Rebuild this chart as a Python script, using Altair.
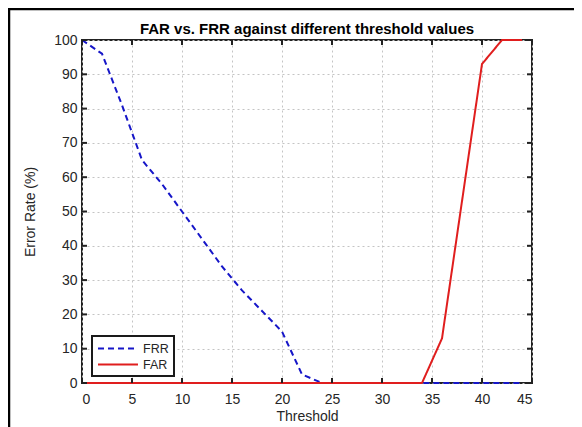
import altair as alt
import pandas as pd

thresholds = [0, 2, 4, 6, 8, 10, 12, 14, 16, 18, 20, 22, 24, 26, 28, 30, 32, 34, 36, 38, 40, 42, 44]
frr = [100, 96, 81, 65, 58, 50, 42, 34, 27, 21, 15, 2.5, 0, 0, 0, 0, 0, 0, 0, 0, 0, 0, 0]
far = [0, 0, 0, 0, 0, 0, 0, 0, 0, 0, 0, 0, 0, 0, 0, 0, 0, 0, 13, 53, 93, 100, 100]
series = ["FRR", "FAR"]
x_ticks = [0, 5, 10, 15, 20, 25, 30, 35, 40, 45]
y_ticks = [0, 10, 20, 30, 40, 50, 60, 70, 80, 90, 100]
chart_title = "FAR vs. FRR against different threshold values"

W, H = 450, 343
FONT = "Liberation Sans"
TXT = "#262626"

frr_df = pd.DataFrame({"Threshold": thresholds, "Rate": frr, "Series": "FRR"})
far_df = pd.DataFrame({"Threshold": thresholds, "Rate": far, "Series": "FAR"})
xt_df = pd.DataFrame({"Threshold": x_ticks})
yt_df = pd.DataFrame({"Rate": y_ticks})
one = pd.DataFrame({"a": [0]})

xscale = alt.Scale(domain=[0, 45], nice=False, zero=False)
yscale = alt.Scale(domain=[0, 100], nice=False)

color = alt.Color("Series:N", scale=alt.Scale(domain=series, range=["#1616c8", "#e01e1e"]),
                  legend=alt.Legend(title=None, orient="none", legendX=10, legendY=296,
                                    strokeColor="#1a1a1a", fillColor="white", padding=5,
                                    symbolType="M-1,0H5.15", symbolSize=169, symbolStrokeWidth=2,
                                    labelFontSize=12.5, labelFont=FONT, labelColor=TXT,
                                    rowPadding=2, labelOffset=31))
dash = alt.StrokeDash("Series:N", scale=alt.Scale(domain=series, range=[[6, 4], [1, 0]]),
                      legend=alt.Legend(title=None, orient="none", legendX=10, legendY=296))

grid_kw = dict(ticks=False, domain=False, grid=True, gridDash=[2, 3], gridColor="#c4c4c4",
               gridWidth=1, labelFontSize=14, titleFontSize=14)
xaxis = alt.Axis(values=x_ticks, title="Threshold", labelPadding=9, titlePadding=3, **grid_kw)
yaxis = alt.Axis(values=y_ticks, title="Error Rate (%)", labelPadding=5, titlePadding=16, **grid_kw)

X = alt.X("Threshold:Q", scale=xscale, axis=xaxis)
Y = alt.Y("Rate:Q", scale=yscale, axis=yaxis)

frr_line = alt.Chart(frr_df).mark_line(strokeWidth=2).encode(
    x=X, y=Y, color=color, strokeDash=dash)
far_line = alt.Chart(far_df).mark_line(strokeWidth=2).encode(
    x=X, y=Y, color=color, strokeDash=dash)

tick_style = dict(color="#222222", strokeWidth=2)
xb = alt.Chart(xt_df).mark_rule(**tick_style).encode(
    x=X, y=alt.value(H), y2=alt.value(H - 5))
xt = alt.Chart(xt_df).mark_rule(**tick_style).encode(
    x=X, y=alt.value(0), y2=alt.value(5))
yl = alt.Chart(yt_df).mark_rule(**tick_style).encode(
    y=Y, x=alt.value(0), x2=alt.value(5))
yr = alt.Chart(yt_df).mark_rule(**tick_style).encode(
    y=Y, x=alt.value(W), x2=alt.value(W - 5))

frame = alt.Chart(one).mark_rect(
    fillOpacity=0, stroke="black", strokeWidth=2.5).encode(
    x=alt.value(-73), x2=alt.value(560), y=alt.value(-31), y2=alt.value(480))

title = alt.Chart(one).mark_text(
    text=chart_title, font=FONT, fontSize=15, fontWeight="bold", color="black",
    align="center", baseline="alphabetic").encode(
    x=alt.value(W / 2), y=alt.value(-6))

chart = alt.layer(frame, frr_line, far_line, xb, xt, yl, yr, title).properties(
    width=W, height=H,
    autosize=alt.AutoSizeParams(type="none"),
    padding={"left": 74, "top": 32, "right": 42, "bottom": 44},
    background="white",
).configure_view(stroke="#222222", strokeWidth=2).configure_axis(
    labelFont=FONT, titleFont=FONT, labelColor=TXT, titleColor=TXT, titleFontWeight="normal"
).configure_legend(strokeWidth=2)

chart.save("out.html", embed_options={"renderer": "svg", "actions": False})
